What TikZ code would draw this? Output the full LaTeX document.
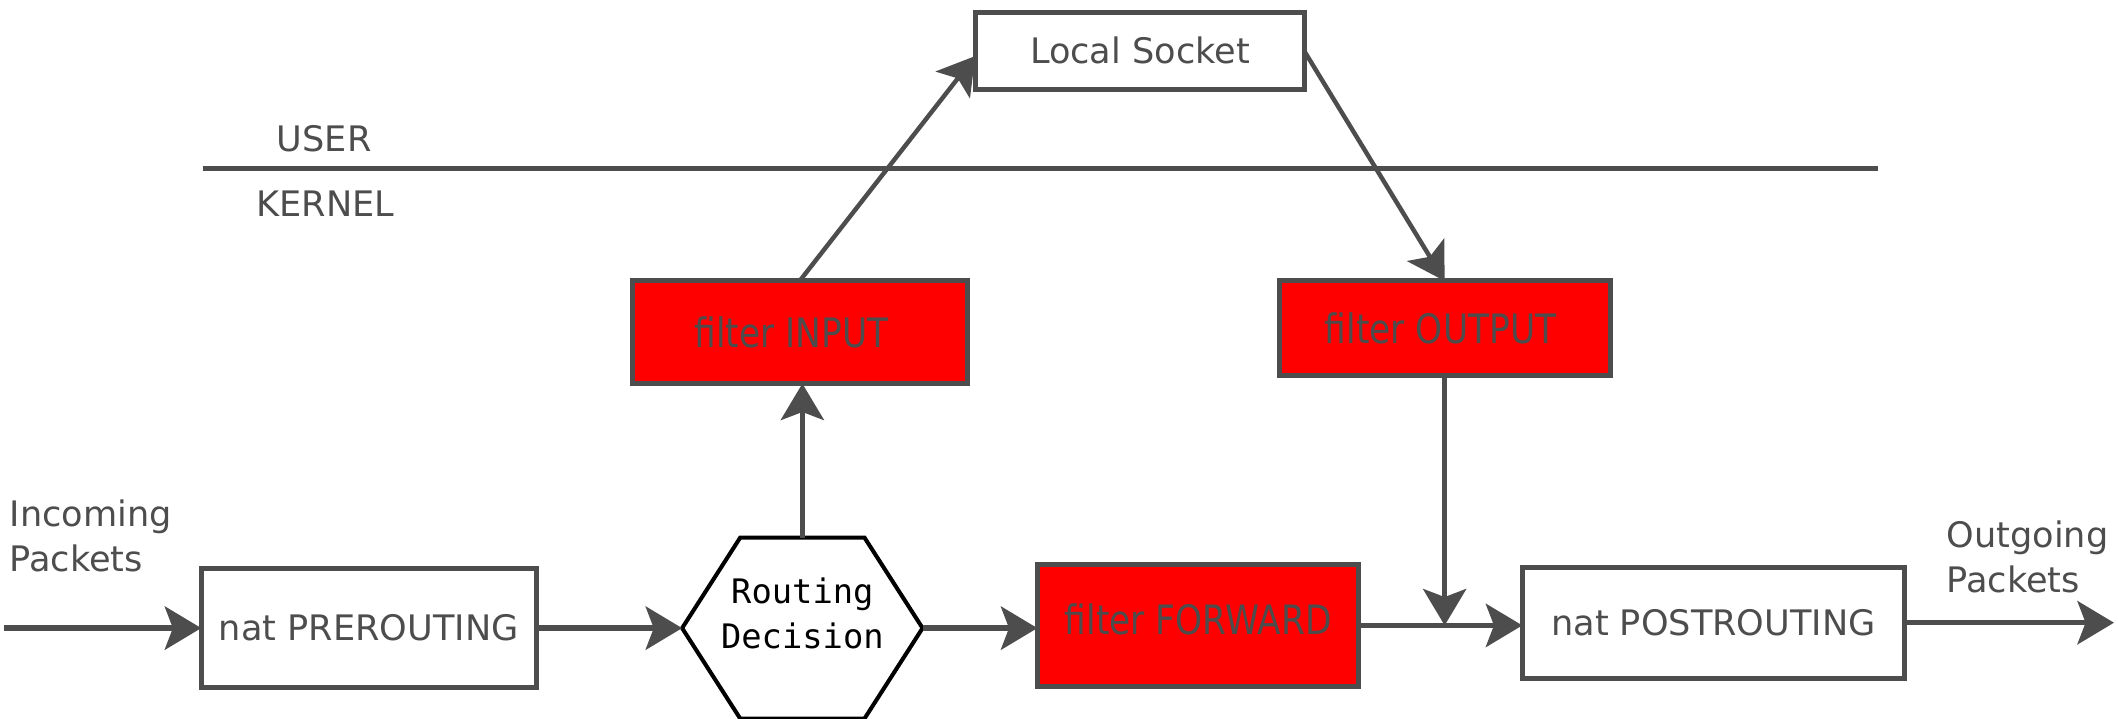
\documentclass[tikz,border=0pt]{standalone}
\usepackage{fontspec}
\setmainfont{DejaVu Sans}
\newfontfamily\boxmono{DejaVu Sans Mono}
\newfontfamily\boxcond[FakeStretch=0.85]{DejaVu Sans}
\usetikzlibrary{arrows.meta}
\definecolor{linegray}{HTML}{4D4D4D}
\definecolor{chainred}{HTML}{FF0000}

\tikzset{
  plainbox/.style={draw=linegray, line width=3.7pt, fill=white, text=linegray,
    inner sep=0pt, outer sep=0pt, font=\fontsize{26}{31}\selectfont},
  filterbox/.style={plainbox, fill=chainred, font=\boxcond\fontsize{30}{36}\selectfont},
  flow/.style={draw=linegray, line width=4pt,
    -{Stealth[length=27pt,width=32pt,inset=6pt]}},
  slimflow/.style={flow, line width=3.3pt},
  caption/.style={text=linegray, inner sep=0pt, align=left,
    font=\fontsize{26}{33.5}\selectfont},
}

\begin{document}
\begin{tikzpicture}[x=1pt,y=-1pt]
  \useasboundingbox (0,0) rectangle (1568,532);

  % user / kernel boundary
  \coordinate (ul) at (150,125);
  \coordinate (ur) at (1390,125);
  \draw[linegray, line width=3.5pt] (ul) -- (ur);
  \node[caption] (user) at (240,103) {USER};
  \node[caption] (kernel) at (241,151) {KERNEL};

  % chains
  \node[plainbox, minimum width=248pt, minimum height=88pt] (pre) at (273,465) {nat PREROUTING};
  \node[filterbox, minimum width=248pt, minimum height=76pt] (fin) at (592,246) {\hspace*{-12pt}filter INPUT};
  \node[plainbox, minimum width=244pt, minimum height=57pt] (ls) at (844,37.5) {Local Socket};
  \node[filterbox, minimum width=245pt, minimum height=70pt] (fout) at (1069.5,243) {\hspace*{-6pt}filter OUTPUT};
  \node[filterbox, minimum width=238pt, minimum height=90pt, text depth=10pt] (ff) at (887,463) {filter FORWARD};
  \node[plainbox, minimum width=283pt, minimum height=82pt] (post) at (1268.5,461) {nat POSTROUTING};

  % routing decision hexagon
  \node[minimum width=178pt, minimum height=134pt, inner sep=0pt, outer sep=0pt] (rd) at (594,465) {};
  \draw[black, line width=3pt, line join=miter, fill=white]
    (rd.west) -- ([xshift=43pt]rd.north west) -- ([xshift=-43pt]rd.north east)
    -- (rd.east) -- ([xshift=-43pt]rd.south east) -- ([xshift=43pt]rd.south west) -- cycle;
  \node[font=\boxmono\fontsize{25}{33}\selectfont, align=center, inner sep=0pt]
    (rdtext) at ([yshift=11pt]rd.center) {Routing\\Decision};

  % packet flow
  \coordinate (inpt) at (3,465);
  \coordinate (outpt) at (1565,461);
  \coordinate (join) at (fout.south |- ff.east);
  \draw[flow] (inpt) -- (pre.west);
  \draw[flow] (pre.east) -- (rd.west);
  \draw[slimflow] (rd.north) -- (rd.north |- fin.south);
  \draw[slimflow] (fin.north) -- ([yshift=-4pt]ls.west);
  \draw[slimflow] ([yshift=-1pt]ls.east) -- (fout.north);
  \draw[slimflow] (fout.south) -- (join);
  \draw[flow] (rd.east) -- (rd.east -| ff.west);
  \draw[flow] (ff.east) -- (ff.east -| post.west);
  \draw[flow] (post.east) -- (outpt);

  \node[caption, anchor=north west] (intext) at (7,370) {Incoming\\Packets};
  \node[caption, anchor=north west] (outtext) at (1441,385) {Outgoing\\Packets};
\end{tikzpicture}
\end{document}
